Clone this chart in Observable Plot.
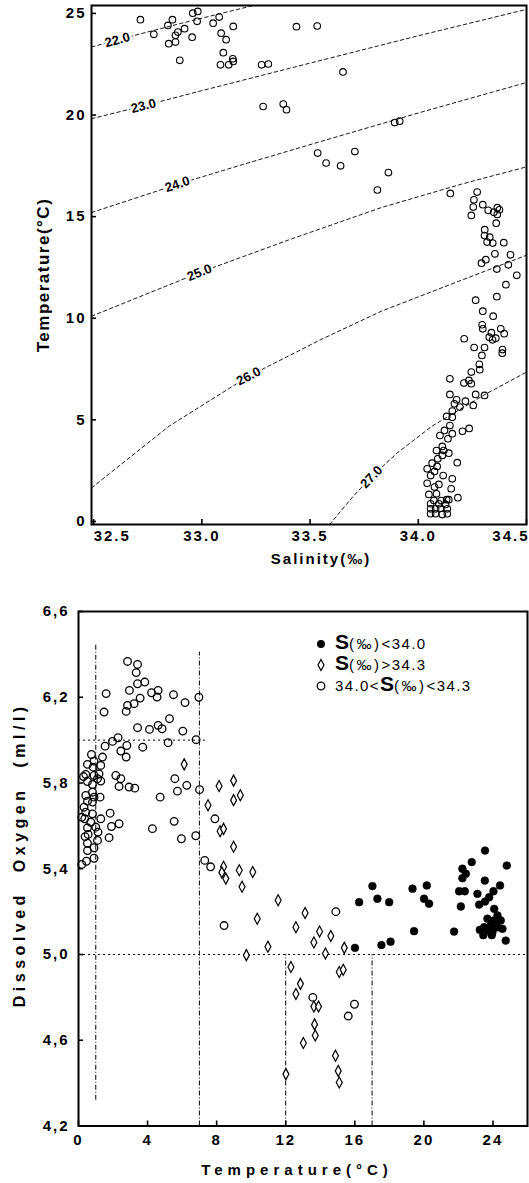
<!DOCTYPE html>
<html>
<head>
<meta charset="utf-8">
<script src="https://cdn.jsdelivr.net/npm/d3@7"></script>
<script src="https://cdn.jsdelivr.net/npm/@observablehq/plot@0.6"></script>
<style>
  body { margin: 0; background: #fff; }
  #chart svg { display: block; background: #fff; }
</style>
</head>
<body>
<div id="chart"></div>
<script>
// ---------------- DATA: T-S diagram (upper panel) ----------------
const salinityTicks = [32.5, 33.0, 33.5, 34.0, 34.5];
const temperatureTicks = [0, 5, 10, 15, 20, 25];

// observed (salinity ‰, temperature °C)
const tsPoints = [
  [32.716,24.69],[32.778,23.97],[32.843,24.41],[32.864,24.69],[32.847,23.51],[32.878,23.59],[32.878,23.92],
  [32.889,24.08],[32.92,24.25],[32.898,22.69],[32.955,23.83],[32.958,25.01],[32.981,25.1],[32.978,24.61],
  [33.052,24.52],[33.08,24.82],[33.145,24.36],[33.089,24.03],[33.112,23.71],[33.099,23.07],[33.086,22.47],
  [33.124,22.47],[33.143,22.77],[33.145,22.64],[33.276,22.47],[33.307,22.51],[33.437,24.35],[33.533,24.38],
  [33.283,20.42],[33.376,20.54],[33.391,20.26],[33.652,22.12],[33.535,18.13],[33.574,17.64],[33.641,17.5],
  [33.707,18.2],[33.811,16.31],[33.862,17.17],[33.891,19.63],[33.914,19.7],[34.148,16.14],
  [34.272,16.21],[34.257,15.83],[34.254,15.47],[34.245,15.06],[34.298,15.59],[34.323,15.31],[34.349,15.22],
  [34.365,15.44],[34.375,15.34],[34.365,15.11],[34.36,14.68],[34.307,14.36],[34.306,14.07],[34.33,13.99],
  [34.318,13.75],[34.344,13.7],[34.395,13.72],[34.354,13.17],[34.426,13.12],[34.292,12.71],[34.312,12.88],
  [34.416,12.63],[34.363,12.42],[34.455,12.11],[34.405,11.65],[34.363,11.06],[34.265,10.89],[34.298,10.35],
  [34.346,10.1],[34.295,9.68],[34.298,9.48],[34.338,9.29],[34.381,9.48],[34.397,9.24],[34.328,9.07],
  [34.358,9.02],[34.343,8.94],[34.212,8.99],[34.258,8.56],[34.306,8.56],[34.389,8.46],[34.388,8.28],
  [34.294,8.17],[34.282,7.73],[34.284,7.47],[34.245,7.35],[34.146,7.02],[34.211,6.81],[34.234,6.94],
  [34.245,6.78],[34.146,6.25],[34.177,5.99],[34.218,5.92],[34.265,6.25],[34.306,6.2],[34.254,5.71],
  [34.167,5.79],[34.192,5.63],[34.157,5.43],[34.131,5.17],[34.157,5.13],[34.146,4.72],[34.121,4.48],
  [34.157,4.32],[34.204,4.44],[34.235,4.58],[34.1,4.23],[34.137,4.07],[34.111,3.69],[34.084,3.49],
  [34.118,3.49],[34.141,3.36],[34.111,3.25],[34.09,3.08],[34.18,2.89],[34.064,2.87],[34.087,2.71],
  [34.041,2.59],[34.075,2.46],[34.115,2.26],[34.057,2.26],[34.157,2.1],[34.041,1.88],[34.095,1.82],
  [34.075,1.69],[34.152,1.61],[34.049,1.33],[34.084,1.36],[34.183,1.17],[34.131,1.07],[34.072,1.03],
  [34.106,1.03],[34.057,0.87],[34.095,0.87],[34.126,0.84],[34.141,1.07],[34.057,0.62],[34.08,0.62],
  [34.103,0.65],[34.134,0.62],[34.057,0.38],[34.08,0.38],[34.111,0.34],[34.134,0.38]
];

// sigma-t isopleths (salinity, temperature)
const isoSigma = [22.0, 23.0, 24.0, 25.0, 26.0, 27.0];
const iso22 = [[32.49,23.35],[32.7,23.95],[32.9,24.5],[33.1,25.03],[33.3,25.55]];
const iso23 = [[32.49,19.82],[32.73,20.45],[33.0,21.2],[33.55,22.69],[34.0,23.9],[34.5,25.2]];
const iso24 = [[32.49,15.2],[32.89,16.6],[33.2,17.6],[33.55,18.7],[34.0,20.1],[34.5,21.6]];
const iso25 = [[32.49,10.1],[32.99,12.25],[33.4,13.85],[33.83,15.45],[34.2,16.6],[34.5,17.45]];
const iso26 = [[32.49,1.65],[32.85,4.7],[33.215,7.14],[33.55,8.95],[33.83,10.35],[34.17,11.75],[34.5,13.1]];
const iso27 = [[33.59,-0.15],[33.7,1.25],[33.785,2.2],[33.9,3.35],[34.065,4.7],[34.3,6.2],[34.5,7.35]];
const isoCurves = [iso22, iso23, iso24, iso25, iso26, iso27];
const isoLabelSalinity = [32.61, 32.73, 32.887, 32.989, 33.216, 33.784];

// ---------------- DATA: dissolved oxygen vs temperature (lower panel) ----------------
const tempTicks = [0, 4, 8, 12, 16, 20, 24];
const oxygenTicks = [4.2, 4.6, 5.0, 5.4, 5.8, 6.2, 6.6];

// (temperature °C, dissolved oxygen ml/l)
const lowSalinity = [ // S < 34.0, filled circles
  [23.54,5.485],[22.77,5.431],[22.23,5.4],[22.43,5.377],[22.23,5.356],[24.8,5.415],[23.53,5.345],[24.41,5.322],
  [22.04,5.295],[22.37,5.295],[23.1,5.283],[24.03,5.295],[23.78,5.267],[23.54,5.247],[23.2,5.233],[22.14,5.224],
  [24.07,5.213],[24.26,5.182],[24.45,5.159],[24.07,5.159],[23.68,5.167],[23.49,5.127],[23.87,5.135],[24.26,5.127],
  [24.55,5.12],[23.97,5.104],[23.68,5.112],[24.74,5.065],[17.02,5.319],[16.25,5.244],[17.31,5.26],[17.99,5.244],
  [19.34,5.307],[20.17,5.322],[20.01,5.26],[20.3,5.237],[19.43,5.109],[21.75,5.107],[16.01,5.031],[17.54,5.044],
  [18.07,5.06],[23.24,5.115],[23.44,5.09],[23.93,5.09]
];
const highSalinity = [ // S > 34.3, diamonds
  [6.12,5.887],[8.14,5.786],[8.98,5.811],[9.37,5.743],[8.98,5.72],[7.5,5.696],[8.2,5.575],[8.4,5.586],[8.98,5.503],
  [8.4,5.409],[8.3,5.383],[8.53,5.354],[9.31,5.393],[10.09,5.385],[9.47,5.316],[11.56,5.253],[10.35,5.167],
  [13.12,5.194],[12.59,5.127],[13.96,5.107],[14.61,5.086],[13.63,5.056],[10.97,5.036],[14.3,5.005],[15.39,5.031],
  [9.72,4.997],[12.3,4.942],[15.1,4.918],[15.33,4.929],[12.85,4.863],[12.59,4.816],[13.63,4.757],[13.9,4.757],
  [13.67,4.674],[13.71,4.622],[13.02,4.587],[14.88,4.528],[15.04,4.457],[15.1,4.403],[12.01,4.442]
];
const midSalinity = [ // 34.0 < S < 34.3, open circles
  [2.84,6.367],[3.42,6.353],[3.34,6.315],[3.42,6.263],[3.84,6.271],[2.95,6.232],[1.6,6.217],[4.23,6.221],[4.61,6.232],
  [4.55,6.201],[5.5,6.212],[6.17,6.175],[6.97,6.2],[3.57,6.196],[3.22,6.17],[2.84,6.162],[2.76,6.134],[1.48,6.131],
  [5.27,6.1],[3.42,6.058],[4.11,6.05],[4.61,6.069],[4.84,6.053],[6.04,6.042],[6.81,6.002],[5.19,5.988],[3.72,5.967],
  [2.29,6.011],[1.97,5.994],[1.54,5.972],[2.8,5.975],[2.45,5.949],[2.76,5.921],[1.39,5.921],[0.75,5.933],[0.9,5.902],
  [0.52,5.887],[1.29,5.882],[0.85,5.874],[0.42,5.84],[0.9,5.835],[1.19,5.843],[1.1,5.82],[0.52,5.807],[1.29,5.809],
  [0.81,5.793],[2.16,5.835],[2.45,5.82],[2.35,5.784],[2.93,5.781],[3.26,5.776],[5.58,5.82],[6.27,5.789],[5.73,5.762],
  [7.01,5.769],[4.73,5.734],[0.81,5.757],[0.42,5.742],[0.9,5.734],[1.25,5.734],[0.52,5.715],[0.81,5.711],[0.32,5.687],
  [1.83,5.659],[0.42,5.664],[0.81,5.656],[0.36,5.633],[1.29,5.633],[0.71,5.617],[2.35,5.61],[1.91,5.597],[1.0,5.594],
  [0.52,5.591],[5.54,5.621],[4.28,5.587],[1.13,5.571],[0.56,5.56],[1.77,5.545],[6.79,5.554],[5.96,5.54],[1.1,5.532],
  [0.52,5.519],[0.9,5.498],[0.52,5.485],[0.9,5.449],[0.46,5.435],[7.31,5.439],[0.29,5.83],[0.19,5.64],[0.38,5.55],
  [0.19,5.42],[7.65,5.409],[8.43,5.135],[14.9,5.2],[13.57,4.8],[15.98,4.768],[15.62,4.713],[7.9,5.633]
];

// guide lines
const guideVertical = [
  {t: 1, from: 4.32, to: 6.45}, {t: 7, from: 4.2, to: 6.41},
  {t: 12, from: 4.2, to: 5.0}, {t: 17, from: 4.2, to: 5.0}
];
const guideHorizontal = [{o: 6.0, from: 0, to: 7.4}, {o: 5.0, from: 0, to: 26}];

const legendLabels = [
  [["S", "big"], ["(‰)", "small"], ["<34.0", "num"]],
  [["S", "big"], ["(‰)", "small"], [">34.3", "num"]],
  [["34.0<", "num"], ["S", "big"], ["(‰)", "small"], ["<34.3", "num"]]
];
const legendSymbols = ["filled", "diamond", "open"];

// ---------------- RENDER ----------------
const FONT = "'Liberation Sans', Arial, Helvetica, sans-serif";
const TICK_PX = 5;

const narrowDiamond = {
  draw(context, size) {
    const r = Math.sqrt(size / Math.PI);
    const w = r * 0.78, h = r * 1.45;
    context.moveTo(0, -h); context.lineTo(w, 0); context.lineTo(0, h); context.lineTo(-w, 0); context.closePath();
  }
};

// upper panel geometry
const TOP = {width: 529, height: 590, ml: 91, mr: 3, mt: 5, mb: 66, xd: [32.49, 34.5], yd: [-0.15, 25.39]};
const pxPerS = (TOP.width - TOP.ml - TOP.mr) / (TOP.xd[1] - TOP.xd[0]);
const pxPerT = (TOP.height - TOP.mt - TOP.mb) / (TOP.yd[1] - TOP.yd[0]);

// lower panel geometry
const BOT = {width: 529, height: 593, ml: 78, mr: 2, mt: 21, mb: 57.5, xd: [0, 26], yd: [4.2, 6.6]};
const pxPerTb = (BOT.width - BOT.ml - BOT.mr) / (BOT.xd[1] - BOT.xd[0]);
const pxPerO = (BOT.height - BOT.mt - BOT.mb) / (BOT.yd[1] - BOT.yd[0]);

function segmentAt(curve, s) {
  for (let i = 0; i < curve.length - 1; i++) if (s >= curve[i][0] && s <= curve[i + 1][0]) return i;
  return s < curve[0][0] ? 0 : curve.length - 2;
}
const isoLabels = isoSigma.map((sig, k) => {
  const c = isoCurves[k], s = isoLabelSalinity[k], i = segmentAt(c, s);
  const slope = (c[i + 1][1] - c[i][1]) / (c[i + 1][0] - c[i][0]);
  return {s, t: c[i][1] + slope * (s - c[i][0]), label: sig.toFixed(1),
          angle: Math.atan(-slope * pxPerT / pxPerS) * 180 / Math.PI};
});

const topPlot = Plot.plot({
  width: TOP.width, height: TOP.height,
  marginLeft: TOP.ml, marginRight: TOP.mr, marginTop: TOP.mt, marginBottom: TOP.mb,
  x: {domain: TOP.xd, axis: null}, y: {domain: TOP.yd, axis: null},
  style: {fontFamily: FONT, fontSize: "15px", fontWeight: "bold", color: "#000", background: "#fff"},
  marks: [
    ...isoCurves.map(c => Plot.line(c, {x: d => d[0], y: d => d[1], stroke: "#000", strokeWidth: 0.9, strokeDasharray: "3.5,3", clip: true})),
    Plot.text(isoLabels, {x: "s", y: "t", text: "label", rotate: "angle", fontSize: 13, fontWeight: "bold", fill: "#000", stroke: "#fff", strokeWidth: 5}),
    Plot.dot(tsPoints, {x: d => d[0], y: d => d[1], r: 3.3, stroke: "#000", strokeWidth: 1.1, fill: "none"}),
    Plot.frame({stroke: "#000", strokeWidth: 2}),
    // inward ticks
    Plot.ruleX(salinityTicks, {x: d => d, y1: TOP.yd[0], y2: TOP.yd[0] + TICK_PX / pxPerT, stroke: "#000", strokeWidth: 1.6}),
    Plot.ruleY(temperatureTicks, {y: d => d, x1: TOP.xd[0], x2: TOP.xd[0] + TICK_PX / pxPerS, stroke: "#000", strokeWidth: 1.6}),
    Plot.text(salinityTicks.slice(0, 1), {x: d => d, frameAnchor: "bottom", dy: 16, textAnchor: "start", text: d => d.toFixed(1)}),
    Plot.text(salinityTicks.slice(1, -1), {x: d => d, frameAnchor: "bottom", dy: 16, textAnchor: "middle", text: d => d.toFixed(1)}),
    Plot.text(salinityTicks.slice(-1), {x: d => d, frameAnchor: "bottom", dy: 16, dx: 3, textAnchor: "end", text: d => d.toFixed(1)}),
    Plot.text(temperatureTicks, {y: d => d, frameAnchor: "left", dx: -5, textAnchor: "end", text: d => String(d)}),
    Plot.text(["Temperature(°C)"], {frameAnchor: "left", dx: -48, dy: 10, rotate: -90, textAnchor: "middle", fontSize: 17, text: d => d}),
    Plot.text(["Salinity(‰)"], {frameAnchor: "bottom", dx: 12, dy: 39, textAnchor: "middle", fontSize: 15, text: d => d})
  ]
});

const botPlot = Plot.plot({
  width: BOT.width, height: BOT.height,
  marginLeft: BOT.ml, marginRight: BOT.mr, marginTop: BOT.mt, marginBottom: BOT.mb,
  x: {domain: BOT.xd, axis: null}, y: {domain: BOT.yd, axis: null},
  style: {fontFamily: FONT, fontSize: "15px", fontWeight: "bold", color: "#000", background: "#fff"},
  marks: [
    Plot.ruleX(guideVertical, {x: "t", y1: "from", y2: "to", stroke: "#000", strokeWidth: 1, strokeDasharray: "5,2,1,2"}),
    Plot.ruleY(guideHorizontal, {y: "o", x1: "from", x2: "to", stroke: "#000", strokeWidth: 1, strokeDasharray: "2,3"}),
    Plot.dot(midSalinity, {x: d => d[0], y: d => d[1], r: 3.8, stroke: "#000", strokeWidth: 1.3, fill: "none"}),
    Plot.dot(highSalinity, {x: d => d[0], y: d => d[1], r: 3.8, symbol: narrowDiamond, stroke: "#000", strokeWidth: 1.2, fill: "#fff"}),
    Plot.dot(lowSalinity, {x: d => d[0], y: d => d[1], r: 3.9, fill: "#000", stroke: "#000", strokeWidth: 0.5}),
    Plot.frame({stroke: "#000", strokeWidth: 2}),
    // inward ticks
    Plot.ruleX(tempTicks, {x: d => d, y1: BOT.yd[0], y2: BOT.yd[0] + TICK_PX / pxPerO, stroke: "#000", strokeWidth: 1.6}),
    Plot.ruleY(oxygenTicks, {y: d => d, x1: BOT.xd[0], x2: BOT.xd[0] + TICK_PX / pxPerTb, stroke: "#000", strokeWidth: 1.6}),
    Plot.text(tempTicks, {x: d => d, frameAnchor: "bottom", dy: 18.5, textAnchor: "middle", text: d => String(d)}),
    Plot.text(oxygenTicks, {y: d => d, frameAnchor: "left", dx: -9, textAnchor: "end", text: d => d.toFixed(1).replace(".", ",")}),
    Plot.text(["Dissolved Oxygen (ml/l)"], {frameAnchor: "left", dx: -59, dy: -14, rotate: -90, textAnchor: "middle", fontSize: 16, text: d => d}),
    Plot.text(["Temperature(°C)"], {frameAnchor: "bottom", dx: -6, dy: 48.5, textAnchor: "middle", fontSize: 15, text: d => d})
  ]
});

// letter spacing like the typewriter-style original
function spaceTexts(svg) {
  d3.select(svg).selectAll("text").each(function () {
    const t = this.textContent;
    let ls = null, ws = null;
    if (/^[0-9.,]+$/.test(t)) ls = "2px";
    if (t === "Temperature(°C)") ls = svg === topPlot ? "1.5px" : "5px";
    if (t === "Salinity(‰)") ls = "2px";
    if (t === "Dissolved Oxygen (ml/l)") { ls = "4.5px"; ws = "10px"; }
    if (ls) this.style.letterSpacing = ls;
    if (ws) this.style.wordSpacing = ws;
  });
}
spaceTexts(topPlot);
spaceTexts(botPlot);
// isopleth labels: no extra spacing
d3.select(topPlot).selectAll("text").filter(function () { return /^2[2-7]\.0$/.test(this.textContent); }).style("letter-spacing", "0px");

// legend inside the lower frame
const leg = d3.select(botPlot).append("g").attr("font-family", FONT).attr("fill", "#000").attr("text-anchor", "start");
legendSymbols.forEach((sym, i) => {
  const y = 54 + i * 21, x = 321;
  if (sym === "filled") leg.append("circle").attr("cx", x).attr("cy", y).attr("r", 4).attr("fill", "#000");
  else if (sym === "open") leg.append("circle").attr("cx", x).attr("cy", y).attr("r", 3.8).attr("fill", "none").attr("stroke", "#000").attr("stroke-width", 1.3);
  else leg.append("path").attr("transform", `translate(${x},${y})`).attr("d", "M0,-5.5L3,0L0,5.5L-3,0Z").attr("fill", "none").attr("stroke", "#000").attr("stroke-width", 1.2);
  const txt = leg.append("text").attr("x", 335).attr("y", y).attr("dy", "0.36em").attr("text-anchor", "start");
  legendLabels[i].forEach(([s, kind]) => {
    const ts = txt.append("tspan").text(s);
    if (kind === "big") ts.attr("font-size", 21).attr("font-weight", "bold");
    else if (kind === "small") ts.attr("font-size", 15).attr("letter-spacing", "2.5px").attr("font-weight", "normal");
    else ts.attr("font-size", 15).attr("letter-spacing", "1.4px").attr("font-weight", "normal");
  });
});

document.getElementById("chart").append(topPlot, botPlot);
</script>
</body>
</html>
